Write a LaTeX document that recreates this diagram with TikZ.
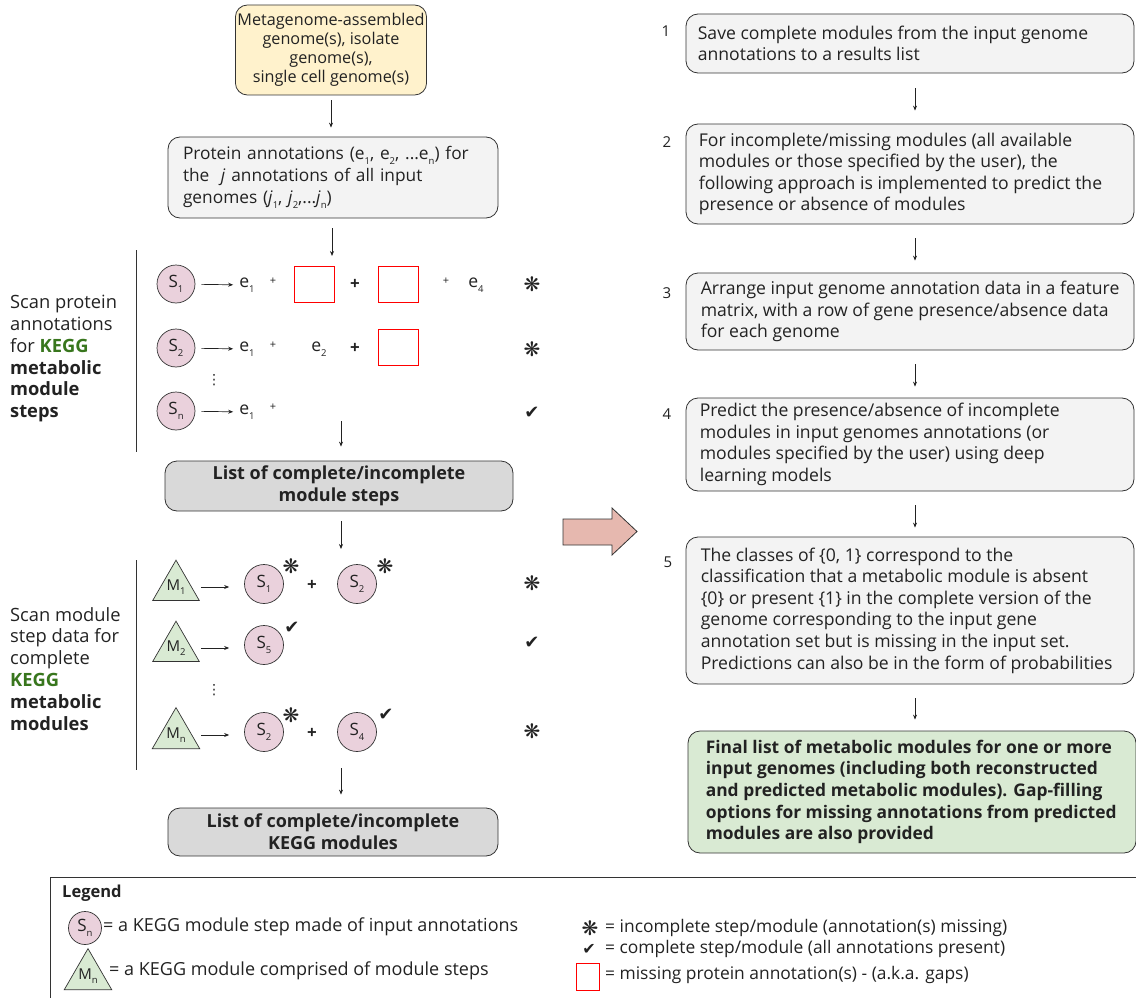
\documentclass[tikz,border=0pt]{standalone}
\usepackage{fontspec}
\setmainfont{Open Sans}
\newfontfamily\symfont{DejaVu Sans}
\usetikzlibrary{arrows.meta,shapes.geometric,calc}
\definecolor{yel}{HTML}{FFF2CC}
\definecolor{lgray}{HTML}{F3F3F3}
\definecolor{mgray}{HTML}{D9D9D9}
\definecolor{lgreen}{HTML}{D9EAD3}
\definecolor{pinkc}{HTML}{EAD1DC}
\definecolor{keggg}{HTML}{38761D}
\definecolor{bigarr}{HTML}{E6B8AF}
\definecolor{edge}{HTML}{333333}
\definecolor{txt}{HTML}{222222}
\definecolor{gapred}{HTML}{FF0000}
\newcommand\lowsub[1]{\raisebox{-0.55ex}{\fontsize{9.5}{9.5}\selectfont #1}}
\newcommand\mystar{{\symfont ❋}}
\newcommand\mycheck{{\symfont ✔}}
\begin{document}
\begin{tikzpicture}[x=1pt,y=-1pt,
  every node/.style={font=\fontsize{17.6}{21.5}\selectfont, text=txt},
  box/.style={draw=edge, rounded corners=12pt, line width=0.8pt, inner xsep=12pt, inner ysep=0pt},
  rbox/.style={box, fill=lgray, minimum width=448pt, minimum height=#1},
  rtext/.style={anchor=west, align=left, inner sep=0pt, font=\fontsize{17.6}{21.6}\selectfont},
  arr/.style={draw=txt, line width=0.7pt, -{Stealth[length=5pt,width=4pt]}},
  scirc/.style={circle, draw=edge, fill=pinkc, minimum size=#1, inner sep=0pt, line width=0.7pt, font=\fontsize{17}{17}\selectfont},
  mtri/.style={regular polygon, regular polygon sides=3, draw=edge, fill=lgreen, minimum size=#1, inner sep=0pt, line width=0.7pt, font=\fontsize{15}{15}\selectfont},
  gap/.style={draw=gapred, fill=white, line width=0.8pt, minimum width=#1, minimum height=36pt, inner sep=0pt},
  sym/.style={font=\fontsize{20}{20}\selectfont, inner sep=1pt},
  ck/.style={font=\fontsize{18}{18}\selectfont, inner sep=1pt},
  smallplus/.style={font=\fontsize{11}{11}\selectfont, inner sep=1pt},
  bigplus/.style={font=\fontsize{17}{17}\selectfont\bfseries, inner sep=1pt},
  num/.style={font=\fontsize{15}{15}\selectfont, inner sep=1pt},
  sidetext/.style={anchor=north west, align=left, inner sep=0pt, font=\fontsize{18.3}{21.8}\selectfont},
  legtext/.style={anchor=west, inner sep=0pt, font=\fontsize{18}{18}\selectfont},
  legtext2/.style={anchor=west, inner sep=0pt, font=\fontsize{17.4}{17}\selectfont}
]
\useasboundingbox (0,0) rectangle (1136,998);

% ---------- left column top ----------
\node[box, fill=yel, align=center, minimum width=186pt, minimum height=90pt, inner xsep=2pt,
  font=\fontsize{16.2}{19}\selectfont] (src) at (331,50)
  {Metagenome-assembled\\genome(s), isolate\\genome(s),\\single cell genome(s)};
\node[box, fill=lgray, text width=300pt, minimum height=81pt, inner xsep=15pt, align=left,
  font=\fontsize{17.3}{22}\selectfont] (prot) at (333,177.5)
  {Protein annotations (e\lowsub{1}, e\lowsub{2}, ...e\lowsub{n}) for\\the \ \textit{j} annotations of all input\\genomes (\textit{j}\lowsub{1}, \textit{j}\lowsub{2},...\textit{j}\lowsub{n})};
\draw[arr, shorten <=5pt, shorten >=9pt] (src.south) -- (src.south |- prot.north);

\coordinate (rowtop) at (332,256);
\draw[arr, shorten <=10pt] (prot.south -| rowtop) -- (rowtop);

% ---------- step scanning ----------
\node[sidetext] (scan1) at (10,295)
  {Scan protein\\annotations\\for {\color{keggg}\bfseries KEGG}\\\textbf{metabolic}\\\textbf{module}\\\textbf{steps}};
\draw[edge, line width=0.8pt] (136,250) -- (136,452);

% row 1
\node[scirc=38pt] (s1) at (176,284) {S\lowsub{1}};
\node[inner sep=2pt] (r1e1) at (247,285) {e\lowsub{1}};
\node[smallplus] (r1p1) at (273,281) {+};
\node[gap=40pt] (r1g1) at (314,284) {};
\node[bigplus] (r1p2) at (355,284) {+};
\node[gap=40pt] (r1g2) at (398,284) {};
\node[smallplus] (r1p3) at (446,281) {+};
\node[inner sep=2pt] (r1e4) at (476,285) {e\lowsub{4}};
\node[sym] (r1st) at (532,284) {\mystar};
\draw[arr, shorten <=6pt, shorten >=4pt] (s1) -- (r1e1);

% row 2
\node[scirc=38pt] (s2) at (176,348) {S\lowsub{2}};
\node[inner sep=2pt] (r2e1) at (247,349) {e\lowsub{1}};
\node[smallplus] (r2p1) at (273,345) {+};
\node[inner sep=2pt] (r2e2) at (319,349) {e\lowsub{2}};
\node[bigplus] (r2p2) at (355,348) {+};
\node[gap=40pt] (r2g1) at (398,347) {};
\node[sym] (r2st) at (532,349) {\mystar};
\draw[arr, shorten <=6pt, shorten >=4pt] (s2) -- (r2e1);

\node[font=\fontsize{14}{14}\selectfont, inner sep=0pt] (dots1) at (214,380) {\symfont ⋮};

% row n
\node[scirc=38pt] (sn) at (176,411) {S\lowsub{n}};
\node[inner sep=2pt] (rne1) at (247,412) {e\lowsub{1}};
\node[smallplus] (rnp1) at (273,407) {+};
\node[ck] (rnck) at (532,413) {\mycheck};
\draw[arr, shorten <=6pt, shorten >=4pt] (sn) -- (rne1);

% list 1
\node[box, fill=mgray, align=center, minimum width=348pt, minimum height=50pt,
  font=\fontsize{18}{22}\selectfont\bfseries] (list1) at (339,486)
  {List of complete/incomplete\\module steps};
\coordinate (rowbot) at (341,421);
\draw[arr, shorten >=14pt] (rowbot) -- (rowbot |- list1.north);
\coordinate (mtop) at (341,549);
\draw[arr, shorten <=10pt] (list1.south -| mtop) -- (mtop);

% ---------- module scanning ----------
\node[sidetext] (scan2) at (10,607)
  {Scan module\\step data for\\complete\\{\color{keggg}\bfseries KEGG}\\\textbf{metabolic}\\\textbf{modules}};
\draw[edge, line width=0.8pt] (136,560) -- (136,770);

% M1
\node[mtri=50pt] (m1) at (176,587) {M\lowsub{1}};
\node[scirc=39pt] (c11) at (264,584) {S\lowsub{1}};
\node[sym] (c11s) at (291,566) {\mystar};
\node[bigplus] (m1p) at (312,585) {+};
\node[scirc=39pt] (c12) at (357,584) {S\lowsub{2}};
\node[sym] (c12s) at (385,566) {\mystar};
\node[sym] (m1st) at (532,583) {\mystar};
\draw[arr, shorten <=9pt, shorten >=15pt] (m1.east) -- (m1.east -| c11.west);

% M2
\node[mtri=50pt] (m2) at (176,648) {M\lowsub{2}};
\node[scirc=39pt] (c21) at (264,645) {S\lowsub{5}};
\node[ck] (c21c) at (292,628) {\mycheck};
\node[ck] (m2ck) at (532,643) {\mycheck};
\draw[arr, shorten <=9pt, shorten >=15pt] (m2.east) -- (m2.east -| c21.west);

\node[font=\fontsize{14}{14}\selectfont, inner sep=0pt] (dots2) at (214,690) {\symfont ⋮};

% Mn
\node[mtri=50pt] (mn) at (176,735) {M\lowsub{n}};
\node[scirc=39pt] (cn1) at (264,732) {S\lowsub{2}};
\node[sym] (cn1s) at (291,715) {\mystar};
\node[bigplus] (mnp) at (312,733) {+};
\node[scirc=39pt] (cn2) at (357,732) {S\lowsub{4}};
\node[ck] (cn2c) at (386,715) {\mycheck};
\node[sym] (mnst) at (532,731) {\mystar};
\draw[arr, shorten <=9pt, shorten >=15pt] (mn.east) -- (mn.east -| cn1.west);

% list 2
\node[box, fill=mgray, align=center, minimum width=330pt, minimum height=48pt,
  font=\fontsize{18}{22}\selectfont\bfseries] (list2) at (333,832)
  {List of complete/incomplete\\KEGG modules};
\coordinate (mbot) at (341,768);
\draw[arr, shorten >=13pt] (mbot) -- (mbot |- list2.north);

% ---------- big arrow ----------
\draw[draw=edge, fill=bigarr, line width=0.8pt] (563,519) -- (612,519) -- (612,508) -- (637,531.5) -- (612,555) -- (612,545) -- (563,545) -- cycle;

% ---------- right column ----------
\node[rbox=59pt] (b1) at (910,43.5) {};
\node[rtext] (b1t) at ([xshift=12pt]b1.west)
  {Save complete modules from the input genome\\annotations to a results list};
\node[rbox=100pt] (b2) at (910,174) {};
\node[rtext] (b2t) at ([xshift=13pt]b2.west)
  {For incomplete/missing modules (all available\\modules or those specified by the user), the\\following approach is implemented to predict the\\presence or absence of modules};
\node[rbox=77pt] (b3) at (910,311.5) {};
\node[rtext] (b3t) at ([xshift=15pt]b3.west)
  {Arrange input genome annotation data in a feature\\matrix, with a row of gene presence/absence data\\for each genome};
\node[rbox=93pt] (b4) at (910,444.5) {};
\node[rtext] (b4t) at ([xshift=14pt]b4.west)
  {Predict the presence/absence of incomplete\\modules in input genomes annotations (or\\modules specified by the user) using deep\\learning models};
\node[rbox=147pt] (b5) at (910,610.5) {};
\node[rtext] (b5t) at ([xshift=15pt]b5.west)
  {The classes of \{0, 1\} correspond to the\\classification that a metabolic module is absent\\\{0\} or present \{1\} in the complete version of the\\genome corresponding to the input gene\\annotation set but is missing in the input set.\\Predictions can also be in the form of probabilities};
\node[box, fill=lgreen, minimum width=448pt, minimum height=122pt] (b6) at (912,792) {};
\node[rtext, font=\fontsize{17.4}{21.6}\selectfont\bfseries] (b6t) at ([xshift=18pt]b6.west)
  {Final list of metabolic modules for one or more\\input genomes (including both reconstructed\\and predicted metabolic modules). Gap-filling\\options for missing annotations from predicted\\modules are also provided};

\node[num] (n1) at (666,31) {1};
\node[num] (n2) at (667,142) {2};
\node[num] (n3) at (667,293) {3};
\node[num] (n4) at (667,414) {4};
\node[num] (n5) at (668,562) {5};

\draw[arr, shorten <=15pt, shorten >=13pt] ([xshift=5pt]b1.south) -- ([xshift=5pt]b2.north);
\draw[arr, shorten <=14pt, shorten >=12pt] ([xshift=5pt]b2.south) -- ([xshift=5pt]b3.north);
\draw[arr, shorten <=14pt, shorten >=11pt] ([xshift=5pt]b3.south) -- ([xshift=5pt]b4.north);
\draw[arr, shorten <=14pt, shorten >=9pt] ([xshift=5pt]b4.south) -- ([xshift=5pt]b5.north);
\draw[arr, shorten <=14pt, shorten >=11pt] ([xshift=5pt]b5.south) -- ([xshift=5pt]b5.south |- b6.north);

% ---------- legend ----------
\draw[edge, line width=0.8pt] (50,1004) -- (50,877) -- (1140,877);
\node[anchor=west, inner sep=0pt, font=\fontsize{16.5}{16}\selectfont\bfseries] (legt) at (62,893) {Legend};
\node[scirc=33pt] (lgs) at (85,928) {S\lowsub{n}};
\node[legtext] (lgst) at (103,927) {= a KEGG module step made of input annotations};
\node[mtri=48pt] (lgm) at (88,976) {M\lowsub{n}};
\node[legtext] (lgmt) at (109,971) {= a KEGG module comprised of module steps};
\node[sym] (lgstar) at (590,928) {\mystar};
\node[legtext2] (lgstart) at (605,927.5) {= incomplete step/module (annotation(s) missing)};
\node[ck, font=\fontsize{16}{16}\selectfont] (lgck) at (589,949) {\mycheck};
\node[legtext2] (lgckt) at (605,949) {= complete step/module (all annotations present)};
\node[gap=23pt, minimum height=27pt] (lggap) at (587.5,976.5) {};
\node[legtext2] (lggapt) at (605,975) {= missing protein annotation(s) - (a.k.a. gaps)};
\end{tikzpicture}
\end{document}
